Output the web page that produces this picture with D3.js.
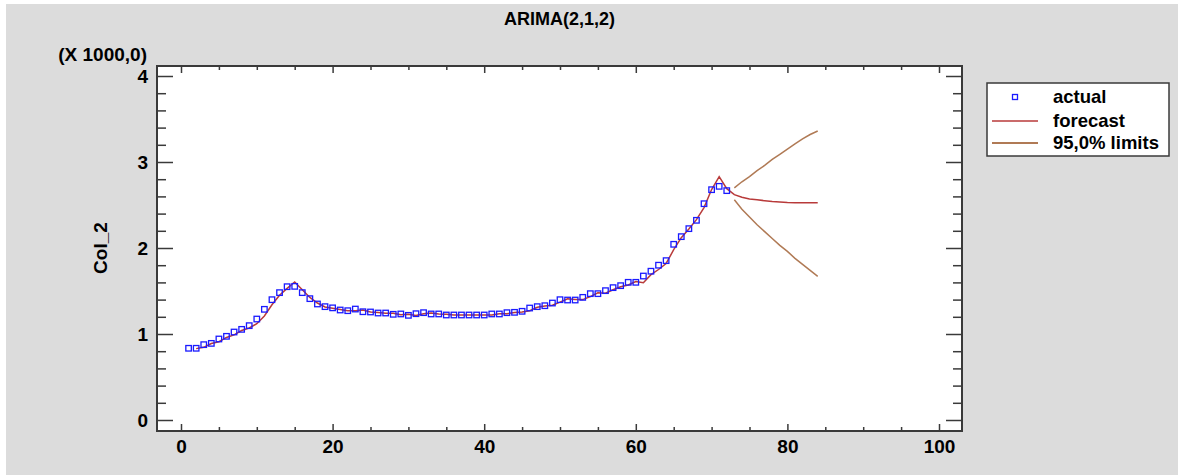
<!DOCTYPE html>
<html>
<head>
<meta charset="utf-8">
<script src="https://cdn.jsdelivr.net/npm/d3@7"></script>
<style>
  html, body { margin: 0; padding: 0; background: #ffffff; }
  svg { display: block; }
  text { font-family: "Liberation Sans", Arial, sans-serif; font-weight: bold; fill: #000; }
</style>
</head>
<body>
<svg id="chart" width="1178" height="475"></svg>
<script>
// ---- data ----
const titleText = "ARIMA(2,1,2)";
const yAxisTitle = "Col_2";
const yScaleNote = "(X 1000,0)";
const legendLabels = ["actual", "forecast", "95,0% limits"];
const xTicks = [0, 20, 40, 60, 80, 100];
const yTicks = [0, 1, 2, 3, 4];

// actual values (thousands), periods 1..72
const actualPeriods = d3.range(1, 73);
const actualValues = [
  0.834, 0.834, 0.876, 0.891, 0.942, 0.973, 1.023, 1.054, 1.097, 1.174,
  1.287, 1.399, 1.481, 1.550, 1.554, 1.481, 1.411, 1.349, 1.318, 1.304,
  1.279, 1.271, 1.290, 1.259, 1.256, 1.244, 1.244, 1.229, 1.233, 1.217,
  1.236, 1.248, 1.233, 1.233, 1.221, 1.221, 1.221, 1.221, 1.221, 1.221,
  1.233, 1.233, 1.248, 1.252, 1.264, 1.302, 1.318, 1.329, 1.360, 1.399,
  1.395, 1.395, 1.426, 1.469, 1.469, 1.504, 1.539, 1.562, 1.601, 1.601,
  1.674, 1.730, 1.800, 1.853, 2.043, 2.132, 2.225, 2.322, 2.515, 2.678,
  2.717, 2.667
];

// forecast values (thousands), periods 2..84
const forecastPeriods = d3.range(2, 85);
const forecastValues = [
  0.830, 0.845, 0.890, 0.910, 0.960, 0.990, 1.040, 1.070, 1.120,
  1.210, 1.340, 1.450, 1.530, 1.605, 1.515, 1.425, 1.360, 1.315, 1.300,
  1.285, 1.270, 1.270, 1.280, 1.255, 1.250, 1.240, 1.240, 1.225, 1.230,
  1.215, 1.235, 1.245, 1.232, 1.230, 1.220, 1.220, 1.220, 1.220, 1.220,
  1.220, 1.235, 1.235, 1.250, 1.255, 1.270, 1.310, 1.325, 1.335, 1.370,
  1.410, 1.400, 1.400, 1.435, 1.480, 1.475, 1.515, 1.550, 1.570, 1.610,
  1.597, 1.690, 1.750, 1.820, 1.980, 2.120, 2.220, 2.330, 2.470, 2.680,
  2.830, 2.690,
  2.620, 2.590, 2.570, 2.560, 2.550, 2.540, 2.535, 2.530, 2.527, 2.526,
  2.525, 2.525
];

// 95% limits, periods 73..84
const limitPeriods = d3.range(73, 85);
const upperValues = [2.70, 2.77, 2.83, 2.90, 2.96, 3.03, 3.09, 3.15, 3.21, 3.27, 3.32, 3.36];
const lowerValues = [2.56, 2.45, 2.36, 2.27, 2.19, 2.11, 2.03, 1.96, 1.88, 1.81, 1.74, 1.67];

// ---- layout ----
const svg = d3.select("#chart");
const W = 1178, H = 475;
const plot = { left: 157, right: 962, top: 66, bottom: 431 };
const FS = "19px";
const COL_FORECAST = "#b83a3a";
const COL_LIMITS = "#b07a55";
const COL_ACTUAL = "#1a1aff";
const COL_FRAME = "#3a3a3a";

svg.append("rect").attr("x", 6).attr("y", 4).attr("width", W - 6).attr("height", H - 4).attr("fill", "#dcdcdc");

const x = d3.scaleLinear().domain([0, 100]).range([181, 939]);
const y = d3.scaleLinear().domain([0, 4]).range([420, 76]);

svg.append("rect")
  .attr("x", plot.left).attr("y", plot.top)
  .attr("width", plot.right - plot.left).attr("height", plot.bottom - plot.top)
  .attr("fill", "#ffffff");

svg.append("clipPath").attr("id", "clip").append("rect")
  .attr("x", plot.left).attr("y", plot.top)
  .attr("width", plot.right - plot.left).attr("height", plot.bottom - plot.top);

const xMinor = d3.range(0, 101, 5).filter(v => v % 20 !== 0);
const yMinor = d3.range(0, 4.01, 0.2).map(v => +v.toFixed(1)).filter(v => Math.abs(v - Math.round(v)) > 1e-6);

function styleAxis(g) {
  g.select(".domain").remove();
  g.selectAll(".tick line").attr("stroke", COL_FRAME).attr("stroke-width", 1.5);
  g.selectAll(".tick text").style("font-size", FS).style("font-family", "'Liberation Sans', Arial, sans-serif").style("font-weight", "bold").attr("fill", "#000");
}

// bottom
svg.append("g").attr("transform", `translate(0,${plot.bottom})`)
  .call(d3.axisBottom(x).tickValues(xTicks).tickSize(-7).tickPadding(9).tickFormat(d3.format("d")))
  .call(styleAxis);
svg.append("g").attr("transform", `translate(0,${plot.bottom})`)
  .call(d3.axisBottom(x).tickValues(xMinor).tickSize(-4).tickFormat(""))
  .call(styleAxis);
// top
svg.append("g").attr("transform", `translate(0,${plot.top})`)
  .call(d3.axisTop(x).tickValues(xTicks).tickSize(-7).tickFormat(""))
  .call(styleAxis);
svg.append("g").attr("transform", `translate(0,${plot.top})`)
  .call(d3.axisTop(x).tickValues(xMinor).tickSize(-4).tickFormat(""))
  .call(styleAxis);
// left
svg.append("g").attr("transform", `translate(${plot.left},0)`)
  .call(d3.axisLeft(y).tickValues(yTicks).tickSize(-16).tickPadding(9).tickFormat(d3.format("d")))
  .call(styleAxis);
svg.append("g").attr("transform", `translate(${plot.left},0)`)
  .call(d3.axisLeft(y).tickValues(yMinor).tickSize(-9).tickFormat(""))
  .call(styleAxis);
// right
svg.append("g").attr("transform", `translate(${plot.right},0)`)
  .call(d3.axisRight(y).tickValues(yTicks).tickSize(-16).tickFormat(""))
  .call(styleAxis);
svg.append("g").attr("transform", `translate(${plot.right},0)`)
  .call(d3.axisRight(y).tickValues(yMinor).tickSize(-9).tickFormat(""))
  .call(styleAxis);

// frame
svg.append("rect")
  .attr("x", plot.left).attr("y", plot.top)
  .attr("width", plot.right - plot.left).attr("height", plot.bottom - plot.top)
  .attr("fill", "none").attr("stroke", COL_FRAME).attr("stroke-width", 2);

const data = svg.append("g").attr("clip-path", "url(#clip)");
const line = d3.line().x(d => x(d[0])).y(d => y(d[1]));

data.append("path")
  .datum(limitPeriods.map((p, i) => [p, upperValues[i]]))
  .attr("d", line).attr("fill", "none").attr("stroke", COL_LIMITS).attr("stroke-width", 1.5);
data.append("path")
  .datum(limitPeriods.map((p, i) => [p, lowerValues[i]]))
  .attr("d", line).attr("fill", "none").attr("stroke", COL_LIMITS).attr("stroke-width", 1.5);
data.append("path")
  .datum(forecastPeriods.map((p, i) => [p, forecastValues[i]]))
  .attr("d", line).attr("fill", "none").attr("stroke", COL_FORECAST).attr("stroke-width", 1.5);

data.selectAll("rect.pt")
  .data(actualPeriods.map((p, i) => [p, actualValues[i]]))
  .join("rect").attr("class", "pt")
  .attr("x", d => x(d[0]) - 2.75).attr("y", d => y(d[1]) - 2.75)
  .attr("width", 5.5).attr("height", 5.5)
  .attr("fill", "none").attr("stroke", COL_ACTUAL).attr("stroke-width", 1.3);

// texts
svg.append("text").attr("x", (plot.left + plot.right) / 2).attr("y", 25)
  .attr("text-anchor", "middle").style("font-size", "18px").text(titleText);
svg.append("text").attr("x", 147).attr("y", 61)
  .attr("text-anchor", "end").style("font-size", FS).text(yScaleNote);
svg.append("text")
  .attr("transform", `translate(107,${y(2)}) rotate(-90)`)
  .attr("text-anchor", "middle").style("font-size", FS).text(yAxisTitle);

// legend
const lg = svg.append("g");
lg.append("rect").attr("x", 987).attr("y", 83).attr("width", 182).attr("height", 73)
  .attr("fill", "#ffffff").attr("stroke", COL_FRAME).attr("stroke-width", 1.5);
lg.append("rect").attr("x", 1015 - 2.5).attr("y", 97 - 2.5).attr("width", 5).attr("height", 5)
  .attr("fill", "none").attr("stroke", COL_ACTUAL).attr("stroke-width", 1.3);
lg.append("line").attr("x1", 992).attr("x2", 1038).attr("y1", 121).attr("y2", 121)
  .attr("stroke", COL_FORECAST).attr("stroke-width", 1.5);
lg.append("line").attr("x1", 992).attr("x2", 1038).attr("y1", 143).attr("y2", 143)
  .attr("stroke", COL_LIMITS).attr("stroke-width", 2);
const ly = [103, 127, 149];
legendLabels.forEach((t, i) => {
  lg.append("text").attr("x", 1053).attr("y", ly[i]).style("font-size", "18.5px").text(t);
});
</script>
</body>
</html>
